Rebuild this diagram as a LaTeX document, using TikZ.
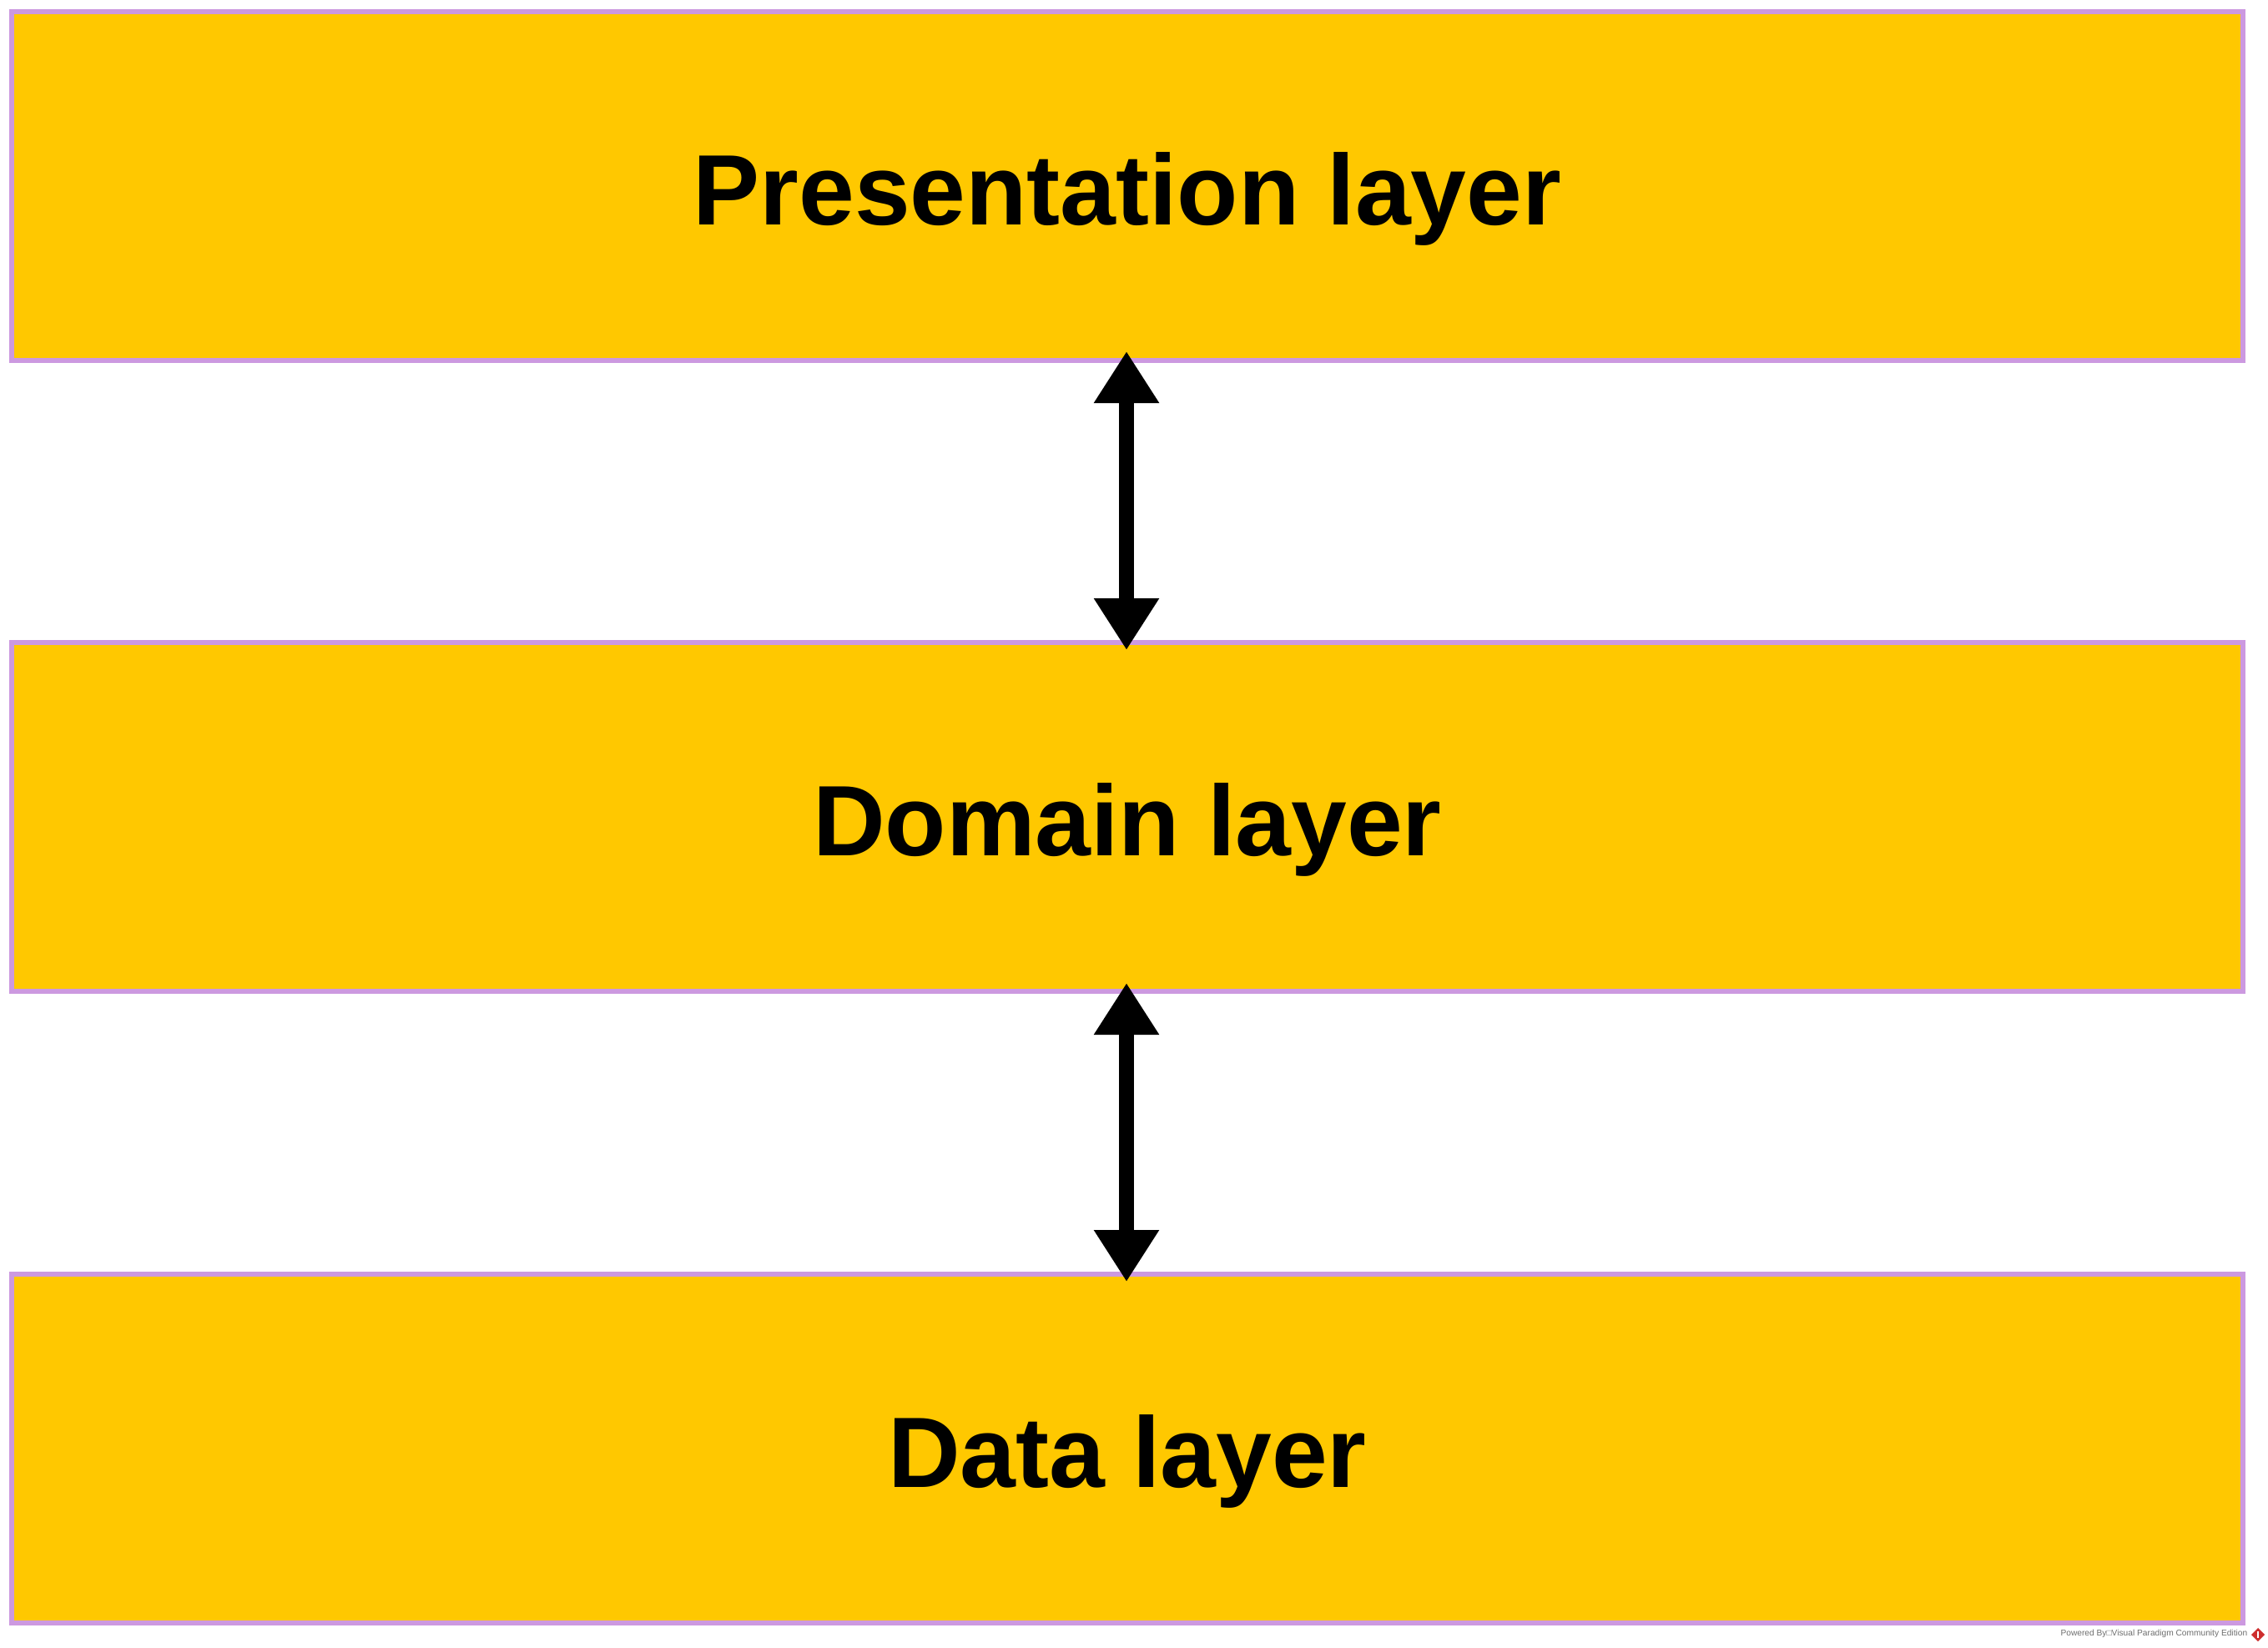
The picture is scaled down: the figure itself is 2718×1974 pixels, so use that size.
\documentclass[tikz,border=0pt]{standalone}
\usepackage{fontspec}
\setmainfont{Liberation Sans}
\usetikzlibrary{arrows.meta,shapes.geometric,calc}
\definecolor{layerfill}{RGB}{255,200,0}
\definecolor{layerborder}{RGB}{204,153,224}
\definecolor{wmgray}{RGB}{110,110,110}
\definecolor{vpred}{RGB}{205,45,45}
\begin{document}
\begin{tikzpicture}[x=0.25pt,y=-0.25pt,
  layer/.style={draw=layerborder, fill=layerfill, line width=1.4pt,
    minimum width=668.5pt, minimum height=104.5pt, inner sep=0pt, outer sep=0pt,
    font=\fontsize{30}{36}\selectfont\bfseries, text height=23pt, text depth=0pt},
  biarrow/.style={line width=4.6pt,
    {Triangle[length=15.5pt,width=18.5pt]}-{Triangle[length=15.5pt,width=18.5pt]}},
  watermark/.style={font=\fontsize{2.55}{3}\selectfont, text=wmgray, inner sep=0pt}]
\useasboundingbox (0,0) rectangle (2718,1974);
\node[layer] (pres) at (1351,223) {Presentation layer};
\node[layer] (dom) at (1351,979) {Domain layer};
\node[layer] (data) at (1351,1736) {Data layer};
\draw[biarrow] ($(pres.south)+(-1,-11)$) -- ($(dom.north)+(-1,9)$);
\draw[biarrow] ($(dom.south)+(-1,-10)$) -- ($(data.north)+(-1,9)$);
\node[watermark, anchor=east] (wm) at (2694,1958) {Powered By□Visual Paradigm Community Edition};
\node[diamond, fill=vpred, inner sep=0pt, minimum size=4.2pt] (wmicon) at (2706,1959) {};
\draw[white, line width=0.4pt] (wmicon.north) ++(0,5) -- ++(0,8);
\end{tikzpicture}
\end{document}
